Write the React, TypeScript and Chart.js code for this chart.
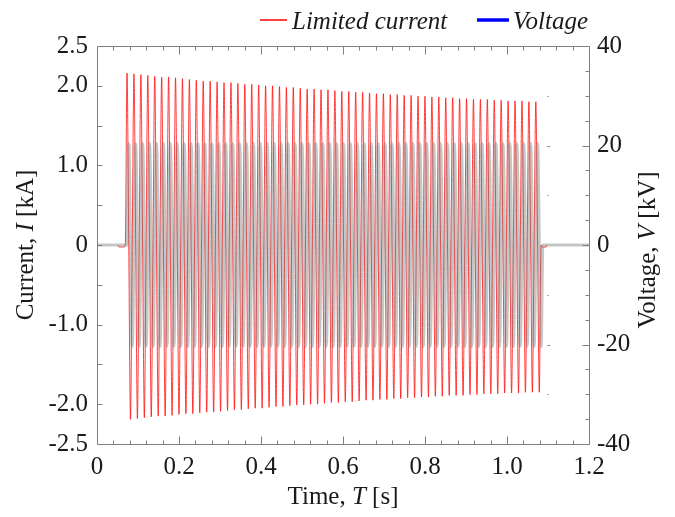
import React, { useEffect, useRef } from "react";
import { Chart, registerables } from "chart.js";

Chart.register(...registerables);

// ---------------- data ----------------
const X_TICKS = [0, 0.2, 0.4, 0.6, 0.8, 1.0, 1.2];
const CURRENT_TICKS = [-2.5, -2.0, -1.0, 0, 1.0, 2.0, 2.5];
const VOLTAGE_TICKS = [-40, -20, 0, 20, 40];

// waveform timing (s)
const CYCLE_START = 0.069;
const CYCLE_PERIOD = 0.0169;

// current [kA]: positive and negative peak of each of the 60 cycles
const CURRENT_POS_PEAKS = [
  2.16, 2.15, 2.14, 2.13, 2.12, 2.11, 2.11, 2.10, 2.09, 2.08,
  2.07, 2.06, 2.06, 2.05, 2.04, 2.04, 2.03, 2.02, 2.02, 2.01,
  2.00, 2.00, 1.99, 1.98, 1.98, 1.97, 1.96, 1.96, 1.95, 1.95,
  1.94, 1.93, 1.93, 1.92, 1.92, 1.91, 1.90, 1.90, 1.89, 1.89,
  1.88, 1.88, 1.87, 1.87, 1.86, 1.86, 1.85, 1.85, 1.84, 1.84,
  1.83, 1.83, 1.83, 1.82, 1.82, 1.81, 1.81, 1.81, 1.80, 1.80,
];
const CURRENT_NEG_PEAKS = [
  -2.19, -2.18, -2.17, -2.16, -2.15, -2.15, -2.14, -2.13, -2.12, -2.12,
  -2.11, -2.10, -2.10, -2.09, -2.08, -2.07, -2.07, -2.06, -2.05, -2.05,
  -2.04, -2.03, -2.03, -2.02, -2.01, -2.01, -2.00, -2.00, -1.99, -1.98,
  -1.98, -1.97, -1.97, -1.96, -1.95, -1.95, -1.94, -1.94, -1.93, -1.93,
  -1.92, -1.92, -1.91, -1.91, -1.90, -1.90, -1.89, -1.89, -1.89, -1.88,
  -1.88, -1.87, -1.87, -1.87, -1.86, -1.86, -1.86, -1.85, -1.85, -1.85,
];
// small current offsets just before / after the oscillation
const CURRENT_PRE_TIMES = [0.051, 0.054, 0.066];
const CURRENT_PRE_VALUES = [0, -0.025, -0.025];
const CURRENT_POST_TIMES = [1.086, 1.095, 1.098];
const CURRENT_POST_VALUES = [-0.025, -0.025, 0];

// voltage [kV]: positive and negative peak of each cycle
const VOLTAGE_POS_PEAKS = [
  20.4, 20.4, 20.4, 20.4, 20.4, 20.4, 20.4, 20.4, 20.4, 20.4,
  20.4, 20.4, 20.4, 20.4, 20.4, 20.4, 20.4, 20.4, 20.4, 20.4,
  20.4, 20.4, 20.4, 20.4, 20.4, 20.4, 20.4, 20.4, 20.4, 20.4,
  20.4, 20.4, 20.4, 20.4, 20.4, 20.4, 20.4, 20.4, 20.4, 20.4,
  20.4, 20.4, 20.4, 20.4, 20.4, 20.4, 20.4, 20.4, 20.4, 20.4,
  20.4, 20.4, 20.4, 20.4, 20.4, 20.4, 20.4, 20.4, 20.4, 20.4,
];
const VOLTAGE_NEG_PEAKS = [
  -20.4, -20.4, -20.4, -20.4, -20.4, -20.4, -20.4, -20.4, -20.4, -20.4,
  -20.4, -20.4, -20.4, -20.4, -20.4, -20.4, -20.4, -20.4, -20.4, -20.4,
  -20.4, -20.4, -20.4, -20.4, -20.4, -20.4, -20.4, -20.4, -20.4, -20.4,
  -20.4, -20.4, -20.4, -20.4, -20.4, -20.4, -20.4, -20.4, -20.4, -20.4,
  -20.4, -20.4, -20.4, -20.4, -20.4, -20.4, -20.4, -20.4, -20.4, -20.4,
  -20.4, -20.4, -20.4, -20.4, -20.4, -20.4, -20.4, -20.4, -20.4, -20.4,
];
// stray marks seen near the end of the record (kV)
const STRAY_MARK_TIME = 1.098;
const STRAY_MARK_VALUES = [30, 20, 10, -10, -20, -30];

// ---------------- style ----------------
const FONT = '"Liberation Serif", "Times New Roman", serif';
const TEXT = "#1a1a1a";
const AXIS = "#808080";

type Pt = { x: number; y: number };

function buildCurrent(): Pt[] {
  const pts: Pt[] = [];
  CURRENT_PRE_TIMES.forEach((t, i) => pts.push({ x: t, y: CURRENT_PRE_VALUES[i] }));
  const P = CYCLE_PERIOD;
  CURRENT_POS_PEAKS.forEach((pos, k) => {
    const t = CYCLE_START + k * P;
    pts.push({ x: t, y: 0 });
    pts.push({ x: t + P / 4, y: pos });
    pts.push({ x: t + P / 2, y: 0 });
    pts.push({ x: t + (3 * P) / 4, y: CURRENT_NEG_PEAKS[k] });
  });
  pts.push({ x: CYCLE_START + CURRENT_POS_PEAKS.length * P, y: 0 });
  CURRENT_POST_TIMES.forEach((t, i) => pts.push({ x: t, y: CURRENT_POST_VALUES[i] }));
  return pts;
}

function buildVoltage(): Pt[] {
  const pts: Pt[] = [{ x: 0, y: 0 }];
  const P = CYCLE_PERIOD;
  const start = CYCLE_START + P / 4;
  VOLTAGE_POS_PEAKS.forEach((pos, k) => {
    const t = start + k * P;
    pts.push({ x: t, y: 0 });
    pts.push({ x: t + P / 4, y: pos });
    pts.push({ x: t + P / 2, y: 0 });
    pts.push({ x: t + (3 * P) / 4, y: VOLTAGE_NEG_PEAKS[k] });
  });
  pts.push({ x: start + VOLTAGE_POS_PEAKS.length * P, y: 0 });
  pts.push({ x: 1.2, y: 0 });
  return pts;
}

function drawRich(
  ctx: CanvasRenderingContext2D,
  parts: [string, boolean][],
  x: number,
  y: number,
  rotate: boolean,
  baseline: CanvasTextBaseline = "middle"
) {
  ctx.save();
  ctx.translate(x, y);
  if (rotate) ctx.rotate(-Math.PI / 2);
  const fonts = parts.map(([, it]) => `${it ? "italic " : ""}25px ${FONT}`);
  let total = 0;
  const widths = parts.map(([t], i) => {
    ctx.font = fonts[i];
    const w = ctx.measureText(t).width;
    total += w;
    return w;
  });
  let cx = -total / 2;
  ctx.textBaseline = baseline;
  ctx.textAlign = "left";
  ctx.fillStyle = TEXT;
  parts.forEach(([t], i) => {
    ctx.font = fonts[i];
    ctx.fillText(t, cx, 0);
    cx += widths[i];
  });
  ctx.restore();
}

const decorPlugin = {
  id: "decor",
  afterDraw(chart: any) {
    const { ctx, chartArea: a, scales } = chart;
    const L = Math.round(a.left) + 0.5;
    const R = Math.round(a.right) + 0.5;
    const T = Math.round(a.top) + 0.5;
    const B = Math.round(a.bottom) + 0.5;
    ctx.save();
    ctx.strokeStyle = AXIS;
    ctx.lineWidth = 1;
    ctx.beginPath();
    ctx.rect(L, T, R - L, B - T);
    ctx.stroke();

    ctx.beginPath();
    // x ticks (bottom and top, inward)
    for (let i = 1; i < 30; i++) {
      const px = Math.round(scales.x.getPixelForValue(i * 0.04)) + 0.5;
      const len = i % 5 === 0 ? 8 : 4;
      ctx.moveTo(px, B);
      ctx.lineTo(px, B - len);
      ctx.moveTo(px, T);
      ctx.lineTo(px, T + len);
    }
    // left current ticks
    for (let i = 1; i < 10; i++) {
      const py = Math.round(scales.y.getPixelForValue(-2.5 + i * 0.5)) + 0.5;
      ctx.moveTo(L, py);
      ctx.lineTo(L + 5, py);
    }
    // right voltage ticks
    for (let i = 1; i < 16; i++) {
      const v = -40 + i * 5;
      const py = Math.round(scales.y2.getPixelForValue(v)) + 0.5;
      const len = v % 20 === 0 ? 7 : 4;
      ctx.moveTo(R, py);
      ctx.lineTo(R - len, py);
    }
    ctx.stroke();

    // stray marks
    ctx.strokeStyle = "#909090";
    ctx.beginPath();
    const sx = scales.x.getPixelForValue(STRAY_MARK_TIME);
    STRAY_MARK_VALUES.forEach((v) => {
      const py = Math.round(scales.y2.getPixelForValue(v)) + 0.5;
      const w = Math.abs(v) === 20 ? 3 : 1.5;
      ctx.moveTo(sx, py);
      ctx.lineTo(sx + w, py);
    });
    ctx.stroke();
    ctx.restore();

    // axis titles
    drawRich(ctx, [["Current, ", false], ["I", true], [" [kA]", false]], 26, 245, true);
    drawRich(ctx, [["Voltage, ", false], ["V", true], [" [kV]", false]], 648, 250, true);
    drawRich(ctx, [["Time, ", false], ["T", true], [" [s]", false]], 343, 504, false, "alphabetic");

    // legend
    ctx.save();
    ctx.strokeStyle = "#ff0000";
    ctx.lineWidth = 1.5;
    ctx.beginPath();
    ctx.moveTo(260, 20);
    ctx.lineTo(287, 20);
    ctx.stroke();
    ctx.strokeStyle = "#0000ff";
    ctx.lineWidth = 3.5;
    ctx.beginPath();
    ctx.moveTo(477, 20);
    ctx.lineTo(509, 20);
    ctx.stroke();
    ctx.fillStyle = TEXT;
    ctx.font = `italic 25px ${FONT}`;
    ctx.textBaseline = "alphabetic";
    ctx.textAlign = "left";
    ctx.fillText("Limited current", 292, 29);
    ctx.fillText("Voltage", 513, 29);
    ctx.restore();
  },
};

const fmt1 = (v: any) => (Number(v) === 0 ? "0" : Number(v).toFixed(1));

export default function App() {
  const ref = useRef<HTMLCanvasElement | null>(null);

  useEffect(() => {
    document.body.style.margin = "0";
    const canvas = ref.current;
    if (!canvas) return;
    const tickFont = { family: FONT, size: 25 };
    const chart = new Chart(canvas, {
      type: "line",
      data: {
        datasets: [
          {
            label: "Limited current",
            data: buildCurrent(),
            yAxisID: "y",
            borderColor: "rgba(255,0,0,0.75)",
            borderWidth: 1,
            pointRadius: 0,
            cubicInterpolationMode: "monotone",
            order: 2,
          },
          {
            label: "Voltage",
            data: buildVoltage(),
            yAxisID: "y2",
            borderColor: "rgba(120,120,120,0.42)",
            borderWidth: 3.2,
            pointRadius: 0,
            cubicInterpolationMode: "monotone",
            order: 1,
          },
        ],
      },
      options: {
        animation: false,
        responsive: false,
        events: [],
        layout: { padding: { top: 46, left: 0, right: 0, bottom: 0 } },
        plugins: { legend: { display: false }, tooltip: { enabled: false } },
        scales: {
          x: {
            type: "linear",
            position: "bottom",
            min: 0,
            max: 1.2,
            grid: { display: false, drawTicks: false },
            border: { display: false },
            ticks: {
              padding: 8,
              font: tickFont,
              color: TEXT,
              autoSkip: false,
              maxRotation: 0,
              callback: fmt1,
            },
            afterBuildTicks: (s: any) => {
              s.ticks = X_TICKS.map((v) => ({ value: v }));
            },
            afterFit: (s: any) => {
              s.height = 73;
            },
          },
          y: {
            type: "linear",
            position: "left",
            min: -2.5,
            max: 2.5,
            grid: { display: false, drawTicks: false },
            border: { display: false },
            ticks: { padding: 9, font: tickFont, color: TEXT, autoSkip: false, callback: fmt1 },
            afterBuildTicks: (s: any) => {
              s.ticks = CURRENT_TICKS.map((v) => ({ value: v }));
            },
            afterFit: (s: any) => {
              s.width = 97;
            },
          },
          y2: {
            type: "linear",
            position: "right",
            min: -40,
            max: 40,
            grid: { display: false, drawTicks: false },
            border: { display: false },
            ticks: { padding: 8, font: tickFont, color: TEXT, autoSkip: false, callback: (v: any) => String(v) },
            afterBuildTicks: (s: any) => {
              s.ticks = VOLTAGE_TICKS.map((v) => ({ value: v }));
            },
            afterFit: (s: any) => {
              s.width = 86;
            },
          },
        },
      },
      plugins: [decorPlugin],
    } as any);
    return () => chart.destroy();
  }, []);

  return (
    <div style={{ position: "fixed", left: 0, top: 0, width: 675, height: 517, background: "#fff" }}>
      <canvas ref={ref} width={675} height={517} style={{ width: 675, height: 517, display: "block" }} />
    </div>
  );
}
